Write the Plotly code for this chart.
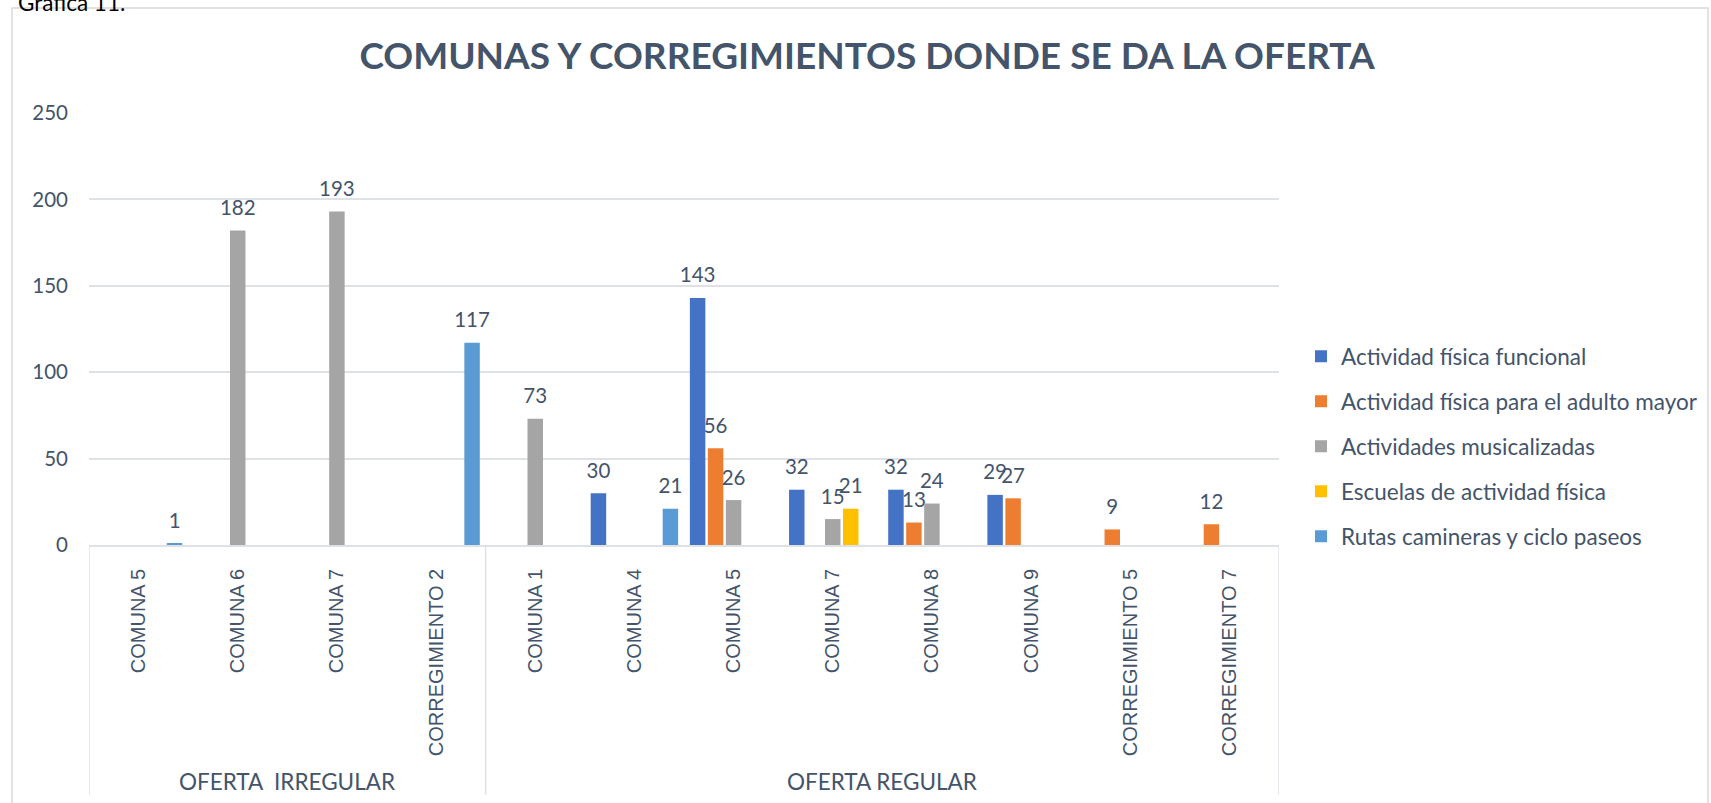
import plotly.graph_objects as go

# ---- data -------------------------------------------------------------
groups = ["OFERTA  IRREGULAR"] * 4 + ["OFERTA REGULAR"] * 8
categories = [
    "COMUNA 5", "COMUNA 6", "COMUNA 7", "CORREGIMIENTO 2",
    "COMUNA 1", "COMUNA 4", "COMUNA 5", "COMUNA 7",
    "COMUNA 8", "COMUNA 9", "CORREGIMIENTO 5", "CORREGIMIENTO 7",
]

series_names = [
    "Actividad física funcional",
    "Actividad física para el adulto mayor",
    "Actividades musicalizadas",
    "Escuelas de actividad física",
    "Rutas camineras y ciclo paseos",
]

funcional = [None, None, None, None, None, 30, 143, 32, 32, 29, None, None]
adulto_mayor = [None, None, None, None, None, None, 56, None, 13, 27, 9, 12]
musicalizadas = [None, 182, 193, None, 73, None, 26, 15, 24, None, None, None]
escuelas = [None, None, None, None, None, None, None, 21, None, None, None, None]
rutas = [1, None, None, 117, None, 21, None, None, None, None, None, None]

y_ticks = [0, 50, 100, 150, 200, 250]

# ---- style ------------------------------------------------------------
colors = ["#4472C4", "#ED7D31", "#A5A5A5", "#FFC000", "#5B9BD5"]
TEXT = "#44546A"
GRID = "#DEE2E7"
W, H = 1711, 803
M_L, M_R, M_T, M_B = 89, 432, 113, 258
PLOT_W = W - M_L - M_R
PLOT_H = H - M_T - M_B
Y_MAX = y_ticks[-1]
LABEL_GAP_PX = 8.5
label_pad = LABEL_GAP_PX * Y_MAX / PLOT_H


def px_x(p):
    """pixel column -> paper x"""
    return (p - M_L) / PLOT_W


def px_y(p):
    """pixel row -> paper y"""
    return (H - M_B - p) / PLOT_H


xpos = list(range(len(categories)))
values = [funcional, adulto_mayor, musicalizadas, escuelas, rutas]

fig = go.Figure()

for i, (name, vals, col) in enumerate(zip(series_names, values, colors)):
    fig.add_trace(go.Bar(
        x=xpos, y=vals, name=name,
        marker=dict(color=col, line=dict(width=0)),
        offsetgroup=str(i), legendgroup=str(i),
        hoverinfo="x+y+name",
    ))
    # value labels, lifted a little above each bar
    fig.add_trace(go.Bar(
        x=xpos,
        y=[label_pad if v is not None else None for v in vals],
        base=[v if v is not None else 0 for v in vals],
        text=[str(v) if v is not None else "" for v in vals],
        textposition="outside",
        textfont=dict(family="Lato", size=20.5, color=TEXT),
        constraintext="none",
        cliponaxis=False,
        marker=dict(color="rgba(0,0,0,0)", line=dict(width=0)),
        offsetgroup=str(i), legendgroup=str(i),
        showlegend=False, hoverinfo="skip",
    ))

# group labels under the category labels
group_names = []
for g in groups:
    if g not in group_names:
        group_names.append(g)
for g in group_names:
    idx = [k for k, gg in enumerate(groups) if gg == g]
    fig.add_annotation(
        x=(idx[0] + idx[-1]) / 2, xref="x",
        y=px_y(781), yref="paper", yanchor="middle",
        text=g.replace("  ", "\u00a0 "), showarrow=False,
        font=dict(family="Lato", size=22.5, color=TEXT),
    )

# group dividers of the category axis
bounds = [-0.5]
for k in range(1, len(groups)):
    if groups[k] != groups[k - 1]:
        bounds.append(k - 0.5)
bounds.append(len(groups) - 0.5)
for b in bounds:
    fig.add_shape(type="line", xref="x", yref="paper",
                  x0=b, x1=b, y0=0, y1=px_y(795),
                  line=dict(color=GRID, width=1.5))

# chart frame
fig.add_shape(type="rect", xref="paper", yref="paper",
              x0=px_x(12), x1=px_x(1708), y0=px_y(860), y1=px_y(8),
              line=dict(color="#D9D9D9", width=1.5), layer="below")

# caption above the frame
fig.add_annotation(
    x=px_x(16), xref="paper", xanchor="left",
    y=px_y(18), yref="paper", yanchor="bottom",
    text="Gráfica 11.", showarrow=False,
    font=dict(family="Lato", size=22.5, color="#000000"),
)

fig.update_layout(
    width=W, height=H,
    margin=dict(l=M_L, r=M_R, t=M_T, b=M_B, pad=0),
    paper_bgcolor="white", plot_bgcolor="white",
    barmode="group", bargap=0.093, bargroupgap=0.14,
    title=dict(
        text="COMUNAS Y CORREGIMIENTOS DONDE SE DA LA OFERTA",
        x=867 / W, xref="container", xanchor="center",
        y=1 - 56.5 / H, yref="container", yanchor="middle",
        font=dict(family="Lato", size=37, color=TEXT, weight="bold"),
    ),
    legend=dict(
        x=1301 / W, xanchor="left", xref="container",
        y=1 - 446.7 / H, yanchor="middle", yref="container",
        font=dict(family="Lato", size=22.5, color=TEXT),
        bgcolor="rgba(0,0,0,0)", itemwidth=30,
        tracegroupgap=12.75, traceorder="grouped",
        itemclick=False, itemdoubleclick=False,
    ),
    xaxis=dict(
        range=[-0.5, len(categories) - 0.5],
        tickmode="array", tickvals=xpos, ticktext=categories,
        tickangle=-90, ticks="", ticklabelstandoff=14,
        tickfont=dict(family="Liberation Sans", size=20, color=TEXT),
        showgrid=False, zeroline=False,
        showline=True, linecolor=GRID, linewidth=1.5,
        fixedrange=True, automargin=False,
    ),
    yaxis=dict(
        range=[0, Y_MAX], tickmode="array", tickvals=y_ticks,
        ticks="", ticklabelstandoff=20,
        tickfont=dict(family="Lato", size=20.5, color=TEXT),
        showgrid=True, gridcolor=GRID, gridwidth=1.5,
        zeroline=False, showline=False, fixedrange=True,
        automargin=False,
    ),
    showlegend=True,
)

fig.write_html("out.html", config={"displayModeBar": False})
